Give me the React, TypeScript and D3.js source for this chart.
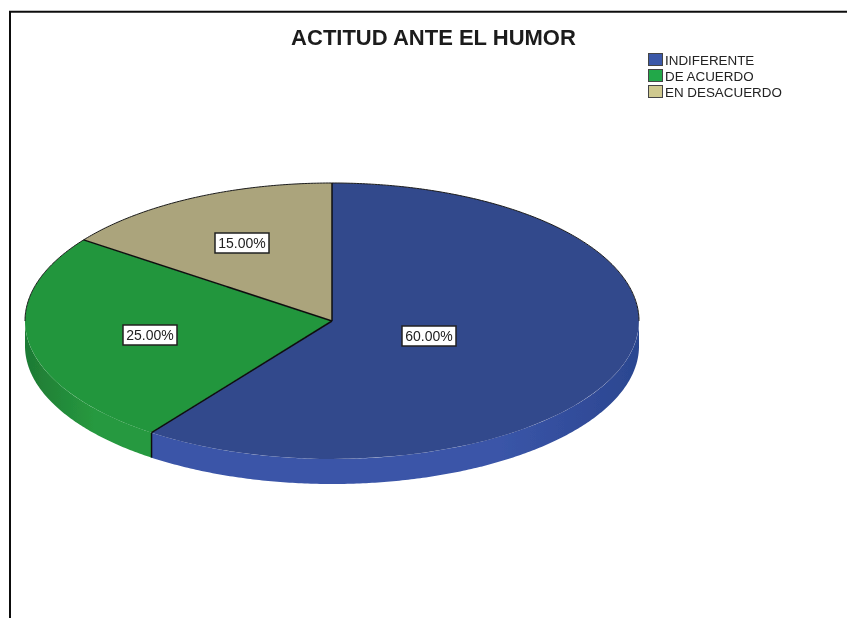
import React from "react";
import * as d3 from "d3";

const categories = ["INDIFERENTE", "DE ACUERDO", "EN DESACUERDO"];
const values = [60, 25, 15];
const labels = ["60.00%", "25.00%", "15.00%"];
const topColors = ["#32488c", "#23963e", "#aba47c"];
const swatchColors = ["#3a58a8", "#22a84a", "#cfc98f"];
const sideColors = [
  ["#3a55a8", "#3a55a8", "#2b4690"],
  ["#1e7a34", "#27993f", "#27993f"],
  ["#8f8a68", "#8f8a68", "#8f8a68"],
];
const sideOffsets = ["0%", "55%", "100%"];
const labelPositions = [
  [429, 336],
  [150, 335],
  [242, 243],
];

const width = 847;
const height = 618;
const cx = 332;
const cy = 321;
const rx = 307;
const ry = 138;
const depth = 25;

const font = "'Liberation Sans', Arial, sans-serif";

const px = (a: number) => rx * Math.sin(a);
const py = (a: number) => -ry * Math.cos(a);

export default function App() {
  const slices = d3.pie<number>().sort(null)(values);
  const arc = d3.arc<d3.PieArcDatum<number>>().innerRadius(0).outerRadius(1);
  const line = d3.line();

  // side wall of the disc, only the part facing the viewer
  const sidePath = (start: number, end: number) => {
    const a0 = Math.max(start, Math.PI / 2);
    const a1 = Math.min(end, (Math.PI * 3) / 2);
    if (a1 <= a0) return null;
    const angles = d3.range(a0, a1, 0.01).concat([a1]);
    const front = angles.map((a) => [px(a), py(a)] as [number, number]);
    const back = angles
      .slice()
      .reverse()
      .map((a) => [px(a), py(a) + depth] as [number, number]);
    return line([...front, ...back]) + "Z";
  };

  // thin outline only runs along the back half of the disc
  const backEdge = line(
    d3
      .range(-Math.PI / 2, Math.PI / 2, 0.01)
      .concat([Math.PI / 2])
      .map((a) => [px(a), py(a)] as [number, number])
  ) as string;

  const sideEdge = slices[0].endAngle;

  return (
    <svg
      width={width}
      height={height}
      style={{ position: "absolute", left: 0, top: 0, background: "#fff" }}
    >
      <defs>
        <filter
          id="soft"
          filterUnits="userSpaceOnUse"
          x={0}
          y={0}
          width={width}
          height={height}
        >
          <feGaussianBlur stdDeviation={0.4} />
        </filter>
        {sideColors.map((stops, i) => (
          <linearGradient
            key={i}
            id={`side${i}`}
            gradientUnits="userSpaceOnUse"
            x1={i === 1 ? -rx : 0}
            x2={i === 1 ? px(sideEdge) : rx}
            y1={0}
            y2={0}
          >
            {stops.map((c, j) => (
              <stop key={j} offset={sideOffsets[j]} stopColor={c} />
            ))}
          </linearGradient>
        ))}
      </defs>

      <g filter="url(#soft)">
        <path d="M10,618V11.7H847" fill="none" stroke="#111" strokeWidth={2} />

        <text
          x={433.5}
          y={45}
          textAnchor="middle"
          fontFamily={font}
          fontWeight="bold"
          fontSize={22}
          fill="#1a1a1a"
        >
          ACTITUD ANTE EL HUMOR
        </text>

        {categories.map((c, i) => (
          <g key={c} transform={`translate(648,${53 + i * 16})`}>
            <rect
              x={0.5}
              y={0.5}
              width={14}
              height={12}
              fill={swatchColors[i]}
              stroke="#444"
              strokeWidth={1}
            />
            <text x={17} y={12} fontFamily={font} fontSize={13.4} fill="#222">
              {c}
            </text>
          </g>
        ))}

        <g transform={`translate(${cx},${cy})`}>
          {slices.map((s, i) => {
            const d = sidePath(s.startAngle, s.endAngle);
            return d ? <path key={i} d={d} fill={`url(#side${i})`} /> : null;
          })}
          <g transform={`scale(${rx},${ry})`}>
            {slices.map((s, i) => (
              <path key={i} d={arc(s) as string} fill={topColors[i]} />
            ))}
          </g>
          <path d={backEdge} fill="none" stroke="#1a1a1a" strokeWidth={1} />
          {/* slice borders */}
          {slices.map((s, i) => (
            <path
              key={i}
              d={line([
                [0, 0],
                [px(s.startAngle), py(s.startAngle)],
              ]) as string}
              stroke="#111"
              strokeWidth={1.5}
            />
          ))}
          <path
            d={line([
              [px(sideEdge), py(sideEdge)],
              [px(sideEdge), py(sideEdge) + depth],
            ]) as string}
            stroke="#111"
            strokeWidth={1.5}
          />
        </g>

        {labels.map((t, i) => (
          <g
            key={t}
            transform={`translate(${labelPositions[i][0]},${labelPositions[i][1]})`}
          >
            <rect
              x={-27}
              y={-10}
              width={54}
              height={20}
              fill="#fff"
              stroke="#222"
              strokeWidth={1.5}
            />
            <text
              y={5}
              textAnchor="middle"
              fontFamily={font}
              fontSize={14}
              fill="#222"
            >
              {t}
            </text>
          </g>
        ))}
      </g>
    </svg>
  );
}
